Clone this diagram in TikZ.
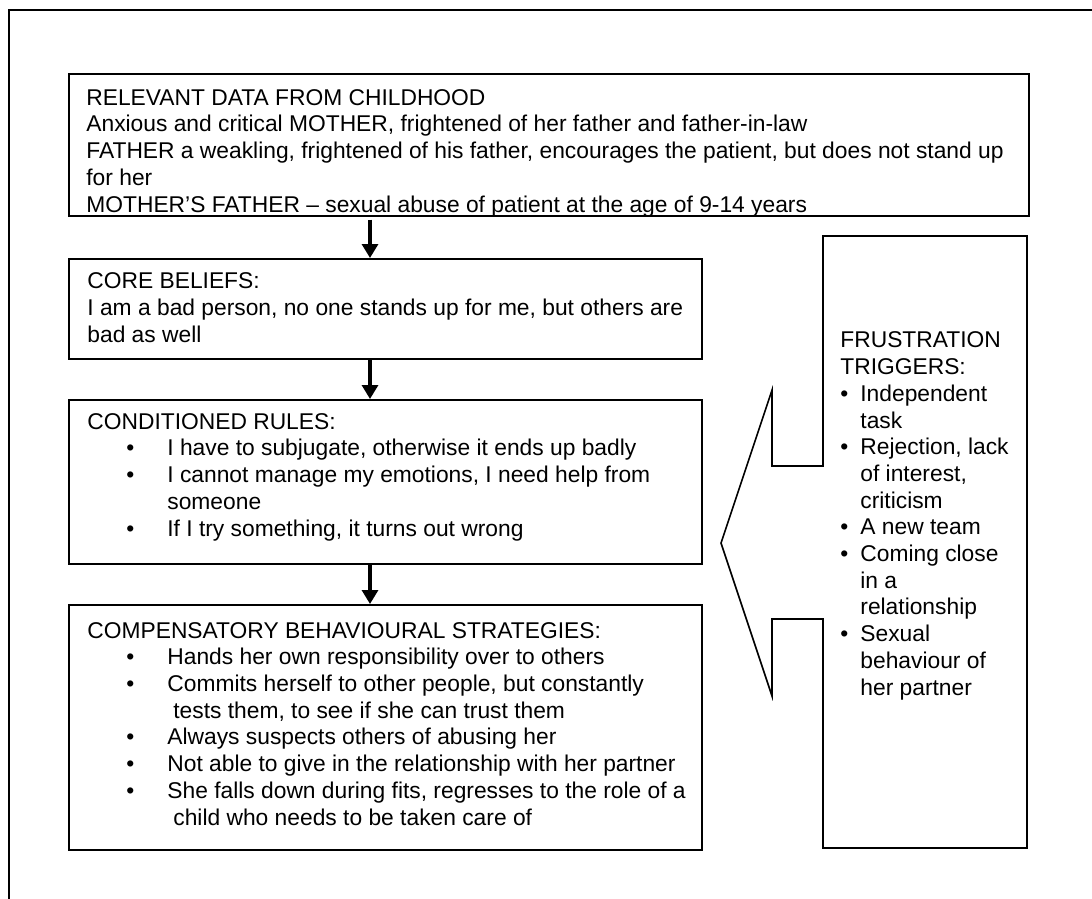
\documentclass[tikz,border=0pt]{standalone}
\usepackage{fontspec}
\setmainfont{Liberation Sans}
\usetikzlibrary{arrows.meta,positioning}

% bullet items in the boxes and in the triggers callout
\newcommand{\blt}{\hspace*{19.5pt}\makebox[20.5pt][l]{\textbullet}}
\newcommand{\cnt}{\hspace*{40pt}}
\newcommand{\tbl}{\makebox[10pt][l]{\textbullet}}
\newcommand{\tcnt}{\hspace*{10pt}}

\begin{document}
\begin{tikzpicture}[x=0.5pt,y=-0.5pt,
		box/.style={draw,line width=0.8pt,inner sep=0pt,anchor=north west},
		txt/.style={inner sep=0pt,anchor=base west,align=left,font=\fontsize{11.4}{13.35}\selectfont},
		flow/.style={line width=1.6pt,-{Triangle[width=8pt,length=7pt]}}]
		\useasboundingbox (0,0) rectangle (1092,899);
		% outer frame, only left and top
		\draw[line width=1.3pt] (9,899) -- (9,10) -- (1092,10);

		% the four boxes on the left
		\node[box,minimum width=480pt,minimum height=71pt] (data) at (68,73) {};
		\node[box,minimum width=316.5pt,minimum height=50pt] (core) at (68,258) {};
		\node[box,minimum width=316.5pt,minimum height=82pt] (rules) at (68,399) {};
		\node[box,minimum width=316.5pt,minimum height=122.5pt] (strat) at (68,604) {};

		% texts are placed at the baseline of their last line
		\begin{scope}
			% last line is cut by the box
			\clip (68,73) rectangle (1028,215);
			\node[txt] (datatext) at (86,212) {RELEVANT DATA FROM CHILDHOOD\\
				Anxious and critical MOTHER, frightened of her father and father-in-law\\
				FATHER a weakling, frightened of his father, encourages the patient, but does not stand up\\
				for her\\
				MOTHER’S FATHER – sexual abuse of patient at the age of 9-14 years};
		\end{scope}

		\node[txt] (coretext) at (87,342) {CORE BELIEFS:\\
			I am a bad person, no one stands up for me, but others are\\
			bad as well};

		\node[txt] (rulestext) at (87,536) {CONDITIONED RULES:\\
			\blt I have to subjugate, otherwise it ends up badly\\
			\blt I cannot manage my emotions, I need help from\\
			\cnt someone\\
			\blt If I try something, it turns out wrong};

		\node[txt] (strattext) at (87,825) {COMPENSATORY BEHAVIOURAL STRATEGIES:\\
			\blt Hands her own responsibility over to others\\
			\blt Commits herself to other people, but constantly\\
			\cnt\hspace*{3pt}tests them, to see if she can trust them\\
			\blt Always suspects others of abusing her\\
			\blt Not able to give in the relationship with her partner\\
			\blt She falls down during fits, regresses to the role of a\\
			\cnt\hspace*{3pt}child who needs to be taken care of};

		% arrows down the left column
		\coordinate (axis) at (370,0);
		\draw[flow] ([yshift=-1.5pt]data.south -| axis) -- (core.north -| axis);
		\draw[flow] (core.south -| axis) -- (rules.north -| axis);
		\draw[flow] (rules.south -| axis) -- (strat.north -| axis);

		% callout with the triggers, pointing left
		\draw[line width=0.8pt] (823,236) -- (1027,236) -- (1027,848) -- (823,848)
		-- (823,619) -- (772,619) -- (772,696) -- (721,543) -- (772,390)
		-- (772,466) -- (823,466) -- cycle;
		\node[txt] (trig) at (840,695) {FRUSTRATION\\
			TRIGGERS:\\
			\tbl Independent\\
			\tcnt task\\
			\tbl Rejection, lack\\
			\tcnt of interest,\\
			\tcnt criticism\\
			\tbl A new team\\
			\tbl Coming close\\
			\tcnt in a\\
			\tcnt relationship\\
			\tbl Sexual\\
			\tcnt behaviour of\\
			\tcnt her partner};

	\end{tikzpicture}
\end{document}
